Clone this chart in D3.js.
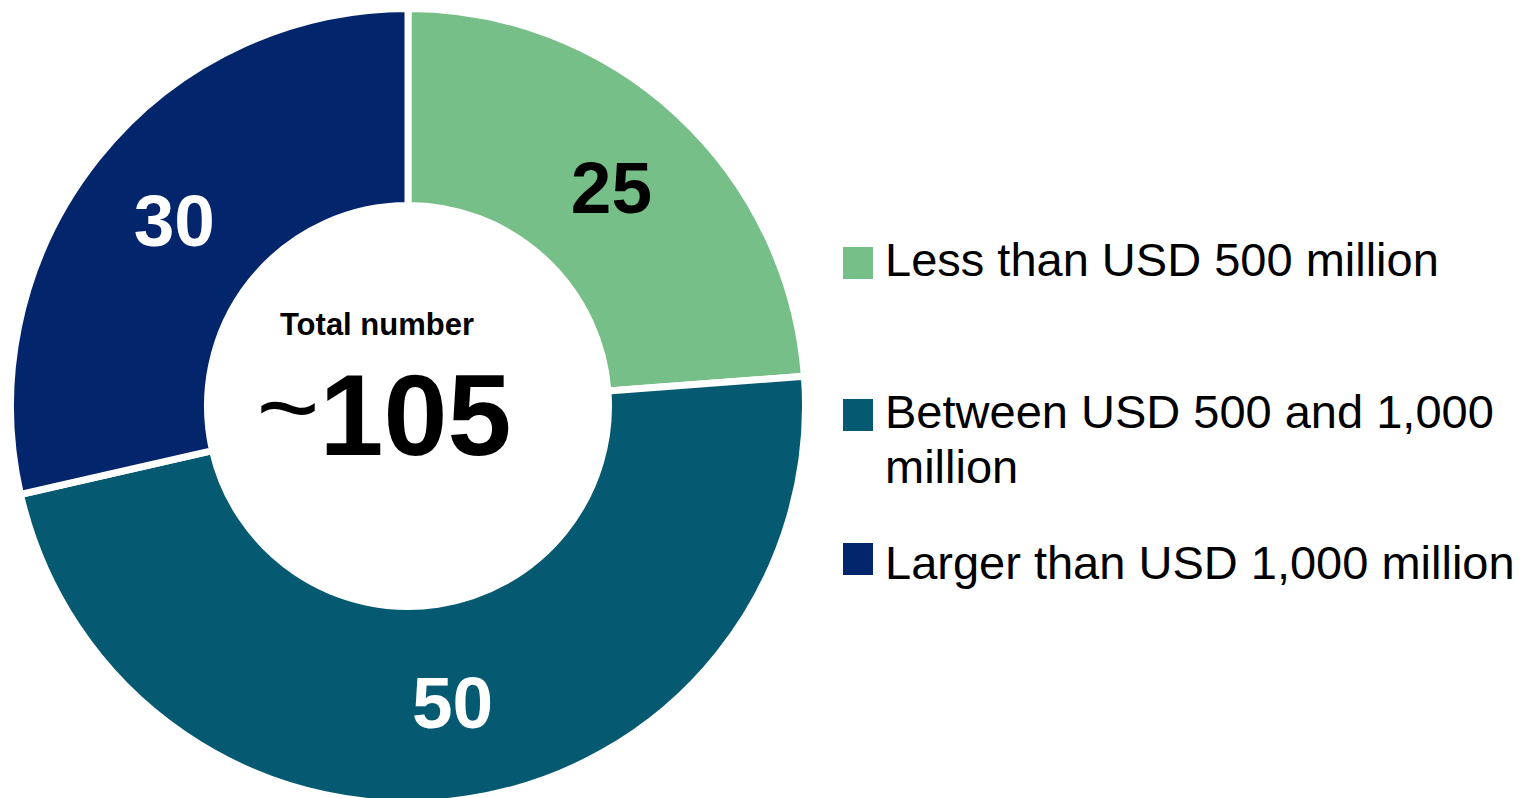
<!DOCTYPE html>
<html>
<head>
<meta charset="utf-8">
<script src="https://cdn.jsdelivr.net/npm/d3@7/dist/d3.min.js"></script>
<style>
  html, body { margin: 0; padding: 0; background: #ffffff; }
  svg { display: block; font-family: "Liberation Sans", Arial, Helvetica, sans-serif; }
</style>
</head>
<body>
<svg id="chart" width="1530" height="798"></svg>
<script>
// Number of entities by size bucket
const categories = ["Less than USD 500 million", "Between USD 500 and 1,000 million", "Larger than USD 1,000 million"];
const values = [25, 50, 30];
const colors = ["#76bf88", "#055a71", "#03256c"];
const labelColors = ["#000000", "#ffffff", "#ffffff"];
const legendLines = [["Less than USD 500 million"], ["Between USD 500 and 1,000", "million"], ["Larger than USD 1,000 million"]];
const totalTitle = "Total number";
const totalValue = "105";

const svg = d3.select("#chart");

const cx = 408, cy = 406;
const outerR = 397.5, innerR = 200.5;

const pie = d3.pie().sort(null).value(d => d)(values);
const arc = d3.arc().innerRadius(innerR).outerRadius(outerR);

const g = svg.append("g").attr("transform", `translate(${cx},${cy})`);

g.selectAll("path.slice")
  .data(pie)
  .join("path")
  .attr("class", "slice")
  .attr("d", arc)
  .attr("fill", (d, i) => colors[i])
  .attr("stroke", "#ffffff")
  .attr("stroke-width", 7)
  .attr("stroke-linejoin", "miter");

g.selectAll("text.val")
  .data(pie)
  .join("text")
  .attr("class", "val")
  .attr("transform", d => `translate(${arc.centroid(d)})`)
  .attr("text-anchor", "middle")
  .attr("dy", "0.36em")
  .attr("font-size", 73)
  .attr("font-weight", "bold")
  .attr("fill", (d, i) => labelColors[i])
  .text(d => d.data);

// Centre caption
g.append("text")
  .attr("x", -31)
  .attr("y", -71)
  .attr("text-anchor", "middle")
  .attr("font-size", 31)
  .attr("font-weight", "bold")
  .attr("fill", "#000")
  .text(totalTitle);

const big = g.append("text")
  .attr("x", -24)
  .attr("y", 49)
  .attr("text-anchor", "middle")
  .attr("fill", "#000");
big.append("tspan")
  .attr("font-size", 108)
  .attr("font-weight", "normal")
  .attr("dy", -11)
  .text("~");
big.append("tspan")
  .attr("font-size", 115)
  .attr("font-weight", "bold")
  .attr("dy", 11)
  .text(totalValue);

// Legend
const legendX = 843;
const legendTops = [247, 399, 543];
const baselineOffsets = [29, 29, 36];
const legend = svg.append("g");
categories.forEach((c, i) => {
  const item = legend.append("g").attr("transform", `translate(${legendX},${legendTops[i]})`);
  item.append("rect")
    .attr("width", 30)
    .attr("height", 32)
    .attr("fill", colors[i]);
  legendLines[i].forEach((line, j) => {
    item.append("text")
      .attr("x", 42)
      .attr("y", baselineOffsets[i] + j * 55)
      .attr("font-size", 47)
      .attr("fill", "#000")
      .text(line);
  });
});
</script>
</body>
</html>
